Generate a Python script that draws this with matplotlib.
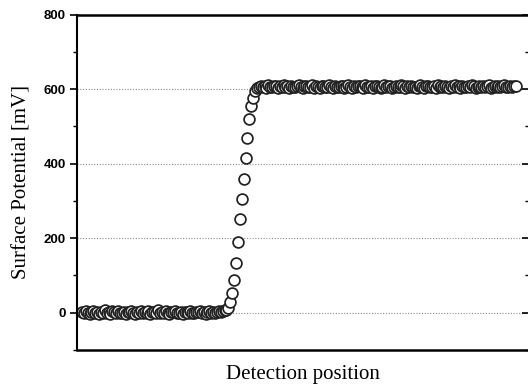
import matplotlib
matplotlib.use("Agg")
import matplotlib.pyplot as plt
import numpy as np
from matplotlib.ticker import MultipleLocator

# surface potential readings along the scan, in mV
left_flat = [3, -2, 4, 0, -3, 2, 5, -1, 1, -4, 3, 0, 6, -2, 2, -3, 4, 1, -1, 5,
             0, -2, 3, -4, 2, 1, 4, -1, -3, 3, 0, 5, -2, 2, -1, 4, -3, 1, 3, 0,
             6, -2, 2, -1, 4, 0, -3, 3, 1, 5, -2, 0, 2, -4, 3, 1, -1, 4, 0, -2,
             3, 2, 5, -1, 1, -3, 2, 4, 0, 3, -1, 2, 4, 3, 5, 6, 8]
rise = [13, 29, 53, 88, 133, 189, 251, 304, 360, 416, 469, 520, 555, 576, 594]
plateau = [603, 607, 610, 606, 609, 604, 611, 607, 605, 610, 608, 604, 609, 606, 611,
           605, 608, 603, 610, 607, 605, 609, 612, 606, 604, 608, 610, 605, 607, 611,
           604, 609, 606, 603, 608, 610, 605, 607, 612, 606, 604, 609, 607, 605, 610,
           608, 603, 606, 611, 607, 604, 609, 605, 608, 610, 606, 604, 611, 607, 605,
           609, 603, 608, 610, 606, 604, 607, 611, 605, 609, 608, 604, 606, 610, 607,
           605, 612, 608, 604, 609, 606, 610, 605, 607, 603, 609, 611, 606, 604, 608,
           610, 605, 607, 609, 604, 611, 606, 608, 605, 610, 607, 603, 609, 606, 611,
           605, 608, 604, 610, 607, 606, 609, 605, 611, 608, 604, 607, 610, 606, 609,
           605, 608, 611, 604, 607, 609, 606, 610, 605, 608, 612, 606, 607, 609, 605,
           608, 610]

y_ticks = [0, 200, 400, 600, 800]
y_label = "Surface Potential [mV]"
x_label = "Detection position"

potential = np.array(left_flat + rise + plateau)
position = np.arange(len(potential))

fig = plt.figure(figsize=(5.28, 3.88), dpi=100)
ax = fig.add_axes([0.1458, 0.098, 0.857, 0.864])

ax.plot(position, potential, linestyle="none", marker="o", markersize=7.8,
        markerfacecolor="white", markeredgecolor="#222222", markeredgewidth=1.25)

for g in y_ticks[:-1]:
    ax.axhline(g, color="#8c8c8c", linestyle=(0, (1, 1.5)), linewidth=0.8, zorder=0)

ax.set_ylim(-100, 800)
ax.set_xlim(-2.6, 235.3)
ax.set_yticks(y_ticks)
ax.yaxis.set_minor_locator(MultipleLocator(100))
ax.set_xticks([])

ax.tick_params(axis="y", which="major", direction="out", length=5, width=1.2,
               labelsize=9.5, pad=3, right=True)
ax.tick_params(axis="y", which="minor", direction="out", length=3, width=1.0, right=True)
for lab in ax.get_yticklabels():
    lab.set_fontweight("bold")
    lab.set_family("Liberation Sans")

# right-hand ticks point inward in the original
for t in ax.yaxis.get_major_ticks() + ax.yaxis.get_minor_ticks():
    t.tick2line.set_marker(matplotlib.lines.TICKLEFT)

for side in ["top", "bottom"]:
    ax.spines[side].set_linewidth(1.8)
ax.spines["left"].set_linewidth(1.5)
ax.spines["right"].set_linewidth(1.5)

ax.set_ylabel(y_label, family="Liberation Serif", fontsize=15, labelpad=9)
ax.set_xlabel(x_label, family="Liberation Serif", fontsize=15, labelpad=11)

fig.savefig("out.png", dpi=100)
